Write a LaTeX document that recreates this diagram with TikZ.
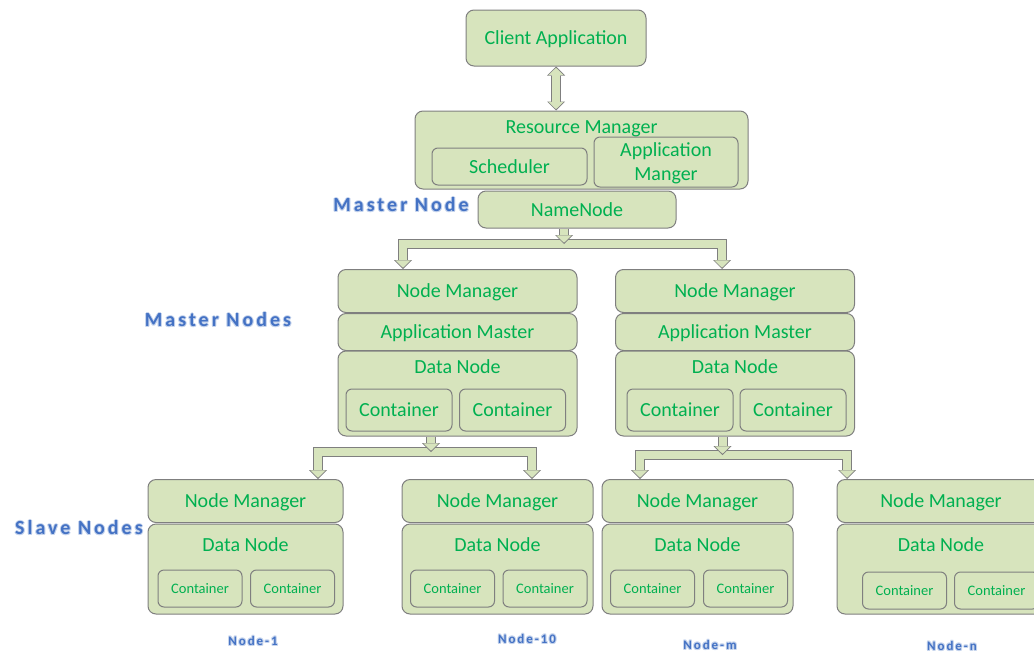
\documentclass[tikz,border=0pt]{standalone}
\usepackage{fontspec}
\setmainfont{Carlito}
\newfontfamily\tagfont[LetterSpace=15]{Carlito}
\usepackage{xcolor}
\usetikzlibrary{arrows.meta}

\definecolor{leaf}{HTML}{D7E4BD}
\definecolor{edge}{HTML}{7F7F7F}
\definecolor{txt}{HTML}{00B050}
\definecolor{tagblue}{HTML}{4472C4}

\tikzset{
  box/.style={draw=edge, fill=leaf, line width=1pt, rounded corners=8pt, inner sep=0pt,
    text depth=0pt, text=txt, font=\fontsize{20}{24}\selectfont},
  cbox/.style={box, rounded corners=6pt},
  small/.style={font=\fontsize{14.5}{17}\selectfont},
  head/.style={inner sep=0pt, text depth=0pt, text=txt, font=\fontsize{20}{24}\selectfont},
  tag/.style={inner sep=0pt, text=tagblue, font=\tagfont\bfseries\fontsize{20}{24}\selectfont},
  subtag/.style={tag, font=\tagfont\bfseries\fontsize{13}{15}\selectfont},
  halo/.style={text=tagblue!30},
  pipeout/.style={draw=edge, line width=10pt},
  pipein/.style={draw=leaf, line width=8pt},
  tipout/.tip={Triangle[length=9pt,width=18pt,line width=0pt]},
  tipin/.tip={Triangle[length=7.4pt,width=15.4pt,line width=0pt]},
}

% blue side label with a soft halo behind it
\newcommand\glowtag[4]{%
  \foreach \dx/\dy [count=\i] in {-1/0,1/0,0/-1,0/1,-.7/-.7,.7/-.7,-.7/.7,.7/.7}
    \node[#1, halo] (#2h\i) at ($(#3)+(\dx,\dy)$) {#4};
  \node[#1] (#2) at (#3) {#4};
}

\usetikzlibrary{calc}

\begin{document}
\begin{tikzpicture}[x=1pt, y=-1pt]
\useasboundingbox (0,0) rectangle (1034,654);
\clip (0,0) rectangle (1034,654);

% top: client and master
\node[box, minimum width=180pt, minimum height=56pt] (client) at (556,38) {Client Application};
\node[box, minimum width=333pt, minimum height=78pt] (rm) at (581.5,150) {};
\node[head] (rmt) at (581.5,127) {Resource Manager};
\node[cbox, minimum width=155pt, minimum height=37pt] (sched) at (509.5,166.5) {Scheduler};
\node[cbox, minimum width=144pt, minimum height=50pt, align=center] (appm) at (666,162) {Application\\Manger};
\node[box, minimum width=198pt, minimum height=37pt] (nn) at (577,209.5) {NameNode};

% master nodes
\foreach \x/\k/\ca/\cb in {457.5/1/399/512.5, 735/2/680/793}{
  \node[box, minimum width=239pt, minimum height=43pt] (nm\k) at (\x,291) {Node Manager};
  \node[box, minimum width=239pt, minimum height=37pt] (am\k) at (\x,332) {Application Master};
  \node[box, minimum width=239pt, minimum height=85pt] (dn\k) at (\x,393.5) {};
  \node[head] (dnt\k) at (\x,367) {Data Node};
  \node[cbox, minimum width=106pt, minimum height=42pt] (ca\k) at (\ca,410) {Container};
  \node[cbox, minimum width=106pt, minimum height=42pt] (cb\k) at (\cb,410) {Container};
}

% slave nodes
\foreach \x/\k/\w/\ca/\cb/\cy/\lx/\ly/\lbl in {
    245.5/a/195/200/292.5/588.5/253/641/Node-1,
    497.5/b/191/452.5/545/588.5/527/639/Node-10,
    697.5/c/191/652.5/745.5/588.5/710/645/Node-m,
    941/d/208/904.5/996.5/590.5/952/646/Node-n}{
  \node[box, minimum width=\w pt, minimum height=43pt] (snm\k) at (\x,501) {Node Manager};
  \node[box, minimum width=\w pt, minimum height=90pt] (sdn\k) at (\x,569) {};
  \node[head] (sdnt\k) at (\x,545) {Data Node};
  \node[cbox, small, minimum width=84pt, minimum height=37pt] (sca\k) at (\ca,\cy) {Container};
  \node[cbox, small, minimum width=84pt, minimum height=37pt] (scb\k) at (\cb,\cy) {Container};
  \glowtag{subtag}{lbl\k}{\lx,\ly}{\lbl}
}

% side labels
\glowtag{tag}{mnode}{401,205}{Master Node}
\glowtag{tag}{mnodes}{218,320}{Master Nodes}
\glowtag{tag}{snodes}{79,528}{Slave Nodes}

% junctions of the block arrows
\coordinate (nnbar) at (564,244);
\coordinate (nnL) at (403,244);
\coordinate (nnR) at (722,244);
\coordinate (lbar) at (431,452);
\coordinate (lbarL) at (318,452);
\coordinate (lbarR) at (532,452);
\coordinate (rbar) at (722.5,455);
\coordinate (rbarL) at (640,455);
\coordinate (rbarR) at (847,455);

% client <-> resource manager
\draw[pipeout, tipout-tipout] (client.south) -- (client.south |- rm.north);
\draw[pipein, tipin-tipin, shorten <=1.3pt, shorten >=1.3pt] (client.south) -- (client.south |- rm.north);

% bars
\foreach \lay/\tp/\sh in {pipeout/tipout/0pt, pipein/tipin/1.3pt}{
  \draw[\lay, -\tp, shorten >=\sh] (nnbar) -- (nnL) -- (nnL |- nm1.north);
  \draw[\lay, -\tp, shorten >=\sh] (nnbar) -- (nnR) -- (nnR |- nm2.north);
  \draw[\lay, -\tp, shorten >=\sh] (lbar) -- (lbarL) -- (lbarL |- snma.north);
  \draw[\lay, -\tp, shorten >=\sh] (lbar) -- (lbarR) -- (lbarR |- snmb.north);
  \draw[\lay, -\tp, shorten >=\sh] (rbar) -- (rbarL) -- (rbarL |- snmc.north);
  \draw[\lay, -\tp, shorten >=\sh] (rbar) -- (rbarR) -- (rbarR |- snmd.north);
}

% stems into the bars
\foreach \lay/\tp/\sh in {pipeout/tipout/0pt, pipein/tipin/1.3pt}{
  \draw[\lay, -\tp, shorten >=\sh] (nnbar |- nn.south) -- (nnbar);
  \draw[\lay, -\tp, shorten >=\sh] (lbar |- dn1.south) -- (lbar);
  \draw[\lay, -\tp, shorten >=\sh] (rbar |- dn2.south) -- (rbar);
}
\end{tikzpicture}
\end{document}
